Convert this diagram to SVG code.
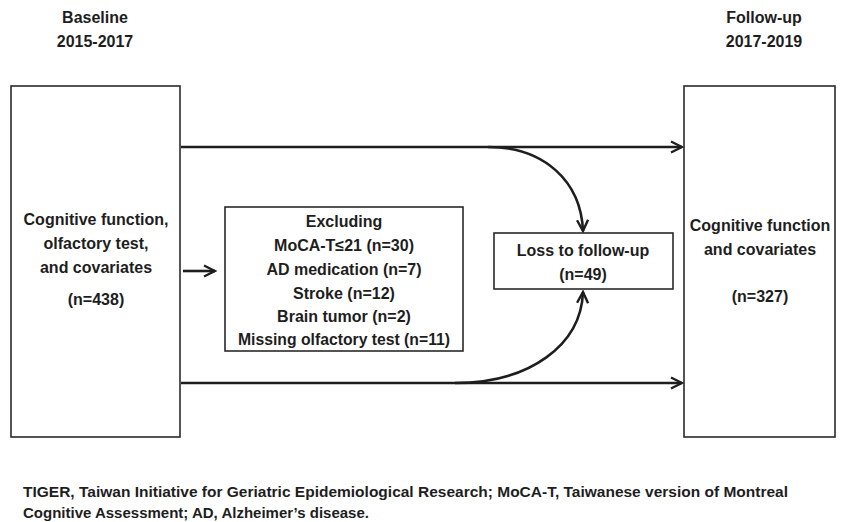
<svg xmlns="http://www.w3.org/2000/svg" width="845" height="522" viewBox="0 0 845 522">
<defs>
<marker id="ah" markerWidth="14" markerHeight="14" refX="12" refY="7" orient="auto" markerUnits="userSpaceOnUse">
<path d="M1,1.5 L12,7 L1,12.5" fill="none" stroke="#1e1e1e" stroke-width="2.4"/>
</marker>
<style>
.box{fill:#fff;stroke:#2a2a2a;stroke-width:1.6}
.t{font-family:"Liberation Sans",Arial,sans-serif;font-weight:bold;font-size:16px;fill:#1e1e1e;text-anchor:middle}
.f{font-family:"Liberation Sans",Arial,sans-serif;font-weight:bold;font-size:15px;fill:#1e1e1e}
.c{fill:none;stroke:#1e1e1e;stroke-width:2.6}
</style>
</defs>
<rect width="845" height="522" fill="#fff"/>
<g id="headers">
<text class="t" x="95" y="23">Baseline</text>
<text class="t" x="95" y="47">2015-2017</text>
<text class="t" x="764" y="23">Follow-up</text>
<text class="t" x="764" y="47">2017-2019</text>
</g>
<g id="connectors">
<line class="c" x1="181" y1="147" x2="682" y2="147" marker-end="url(#ah)"/>
<line class="c" x1="181" y1="383" x2="682" y2="383" marker-end="url(#ah)"/>
<line class="c" x1="183" y1="271" x2="215" y2="271" marker-end="url(#ah)"/>
<path class="c" d="M488,147 C545,147 581,182 583,231" marker-end="url(#ah)"/>
<path class="c" d="M455,383 C530,383 581,345 583,292" marker-end="url(#ah)"/>
</g>
<g id="baseline">
<rect class="box" x="11" y="86" width="169" height="351"/>
<text class="t" x="96" y="225">Cognitive function,</text>
<text class="t" x="96" y="249">olfactory test,</text>
<text class="t" x="96" y="273">and covariates</text>
<text class="t" x="96" y="305">(n=438)</text>
</g>
<g id="excluding">
<rect class="box" x="225" y="207" width="238" height="144"/>
<text class="t" x="344" y="227">Excluding</text>
<text class="t" x="344" y="251">MoCA-T≤21 (n=30)</text>
<text class="t" x="344" y="275">AD medication (n=7)</text>
<text class="t" x="344" y="299">Stroke  (n=12)</text>
<text class="t" x="344" y="322">Brain tumor  (n=2)</text>
<text class="t" x="344" y="345" textLength="212" lengthAdjust="spacingAndGlyphs">Missing olfactory test (n=11)</text>
</g>
<g id="loss">
<rect class="box" x="494" y="233" width="179" height="56"/>
<text class="t" x="583" y="256">Loss to follow-up</text>
<text class="t" x="583" y="280">(n=49)</text>
</g>
<g id="followup">
<rect class="box" x="684" y="86" width="151" height="351"/>
<text class="t" x="760" y="231">Cognitive function</text>
<text class="t" x="760" y="255">and covariates</text>
<text class="t" x="760" y="302">(n=327)</text>
</g>
<g id="footnote">
<text class="f" x="23" y="497" textLength="765" lengthAdjust="spacingAndGlyphs">TIGER, Taiwan Initiative for Geriatric Epidemiological Research; MoCA-T, Taiwanese version of Montreal</text>
<text class="f" x="23" y="518">Cognitive Assessment; AD, Alzheimer’s disease.</text>
</g>
</svg>
